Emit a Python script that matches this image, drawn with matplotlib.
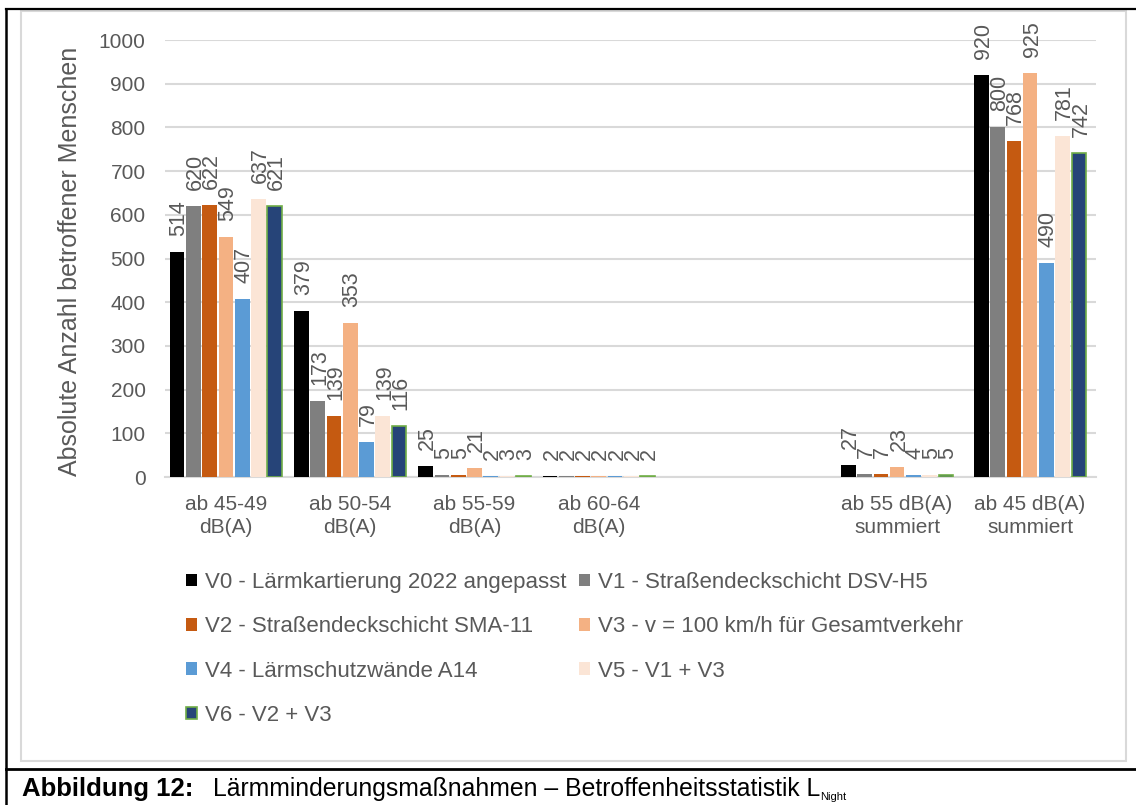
import matplotlib
matplotlib.use("Agg")
import matplotlib.pyplot as plt
from matplotlib.lines import Line2D
from matplotlib.patches import Rectangle
import numpy as np

# ---------------- data ----------------
categories = ["ab 45-49\ndB(A)", "ab 50-54\ndB(A)", "ab 55-59\ndB(A)", "ab 60-64\ndB(A)",
              "ab 55 dB(A)\nsummiert", "ab 45 dB(A)\nsummiert"]
series_names = ["V0 - Lärmkartierung 2022 angepasst",
                "V1 - Straßendeckschicht DSV-H5",
                "V2 - Straßendeckschicht SMA-11",
                "V3 - v = 100 km/h für Gesamtverkehr",
                "V4 - Lärmschutzwände A14",
                "V5 - V1 + V3",
                "V6 - V2 + V3"]
V0 = [514, 379, 25, 2, 27, 920]
V1 = [620, 173, 5, 2, 7, 800]
V2 = [622, 139, 5, 2, 7, 768]
V3 = [549, 353, 21, 2, 23, 925]
V4 = [407, 79, 2, 2, 4, 490]
V5 = [637, 139, 3, 2, 5, 781]
V6 = [621, 116, 3, 2, 5, 742]
series_values = [V0, V1, V2, V3, V4, V5, V6]
y_ticks = [0, 100, 200, 300, 400, 500, 600, 700, 800, 900, 1000]
y_label = "Absolute Anzahl betroffener Menschen"
caption_bold = "Abbildung 12:"
caption_text = "Lärmminderungsmaßnahmen – Betroffenheitsstatistik L"
caption_sub = "Night"

# ---------------- style ----------------
colors = ["#000000", "#7F7F7F", "#C55A11", "#F4B183", "#5B9BD5", "#FBE5D6", "#264478"]
edge_colors = ["white"] * 6 + ["#70AD47"]
TXT = "#595959"
GRID = "#D9D9D9"
FONT = ["Liberation Sans", "DejaVu Sans"]
plt.rcParams["font.family"] = FONT

W, H = 1136, 805
fig = plt.figure(figsize=(W / 100, H / 100), dpi=100)


def fx(x):
    return x / W


def fy(y):
    return 1 - y / H


# axes placement (pixels): left 165, right 1096, top(1000) 40, bottom(0) 477
ax = fig.add_axes([fx(165), fy(477), (1096 - 165) / W, (477 - 40) / H])

# category positions (group centres)
positions = np.array([0, 1, 2, 3, 5.4, 6.47])
pitch = 0.131
bar_w = 0.118
n = len(series_values)
offsets = (np.arange(n) - (n - 1) / 2) * pitch

for i, vals in enumerate(series_values):
    xs = positions + offsets[i]
    lw = 1.2 if i == 6 else 0.0
    ax.bar(xs, vals, width=bar_w, color=colors[i], edgecolor=edge_colors[i],
           linewidth=lw, zorder=3, label=series_names[i])
    for x, v in zip(xs, vals):
        ax.annotate(str(v), (x, v), xytext=(2, 16), textcoords="offset pixels",
                    rotation=90, ha="center", va="bottom", fontsize=15.5, color=TXT,
                    zorder=4, annotation_clip=False)

ax.set_xlim(-0.49, 7.0)
ax.set_ylim(0, 1000)
ax.set_yticks(y_ticks)
ax.set_yticklabels([str(t) for t in y_ticks], fontsize=15, color=TXT)
ax.set_xticks(positions)
ax.set_xticklabels(categories, fontsize=15, color=TXT, linespacing=1.25)
ax.tick_params(axis="both", length=0)
ax.tick_params(axis="y", pad=14)
ax.tick_params(axis="x", pad=13)
ax.grid(axis="y", color=GRID, linewidth=1.5, zorder=0)
for s in ["top", "right", "left"]:
    ax.spines[s].set_visible(False)
ax.spines["bottom"].set_color(GRID)
ax.spines["bottom"].set_linewidth(1.5)
ax.spines["bottom"].set_zorder(2)

fig.text(fx(70), fy(261), y_label, rotation=90, ha="center", va="center",
         fontsize=18, color=TXT)

# legend (row-major order like the reference)
handles, labels = ax.get_legend_handles_labels()
order = [0, 2, 4, 6, 1, 3, 5]
leg = fig.legend([handles[k] for k in order], [labels[k] for k in order],
                 loc="upper left", bbox_to_anchor=(fx(186), fy(572)), ncol=2,
                 frameon=False, fontsize=16, handlelength=0.5, handleheight=0.5,
                 handletextpad=0.35, columnspacing=0.55, labelspacing=1.05,
                 borderaxespad=0, borderpad=0)
for t in leg.get_texts():
    t.set_color(TXT)

# frames
fig.add_artist(Rectangle((fx(21), fy(761)), (1126 - 21) / W, (761 - 11) / H,
                         transform=fig.transFigure, fill=False, edgecolor=GRID,
                         linewidth=1.5))
fig.add_artist(Line2D([fx(6), 1.0], [fy(9), fy(9)], transform=fig.transFigure,
                      color="black", linewidth=1.6))
fig.add_artist(Line2D([fx(6), fx(6)], [fy(9), 0.0], transform=fig.transFigure,
                      color="black", linewidth=1.8))
fig.add_artist(Line2D([fx(6), 1.0], [fy(769), fy(769)], transform=fig.transFigure,
                      color="black", linewidth=2.0))

# caption
fig.text(fx(22), fy(796), caption_bold, fontsize=18.5, fontweight="bold",
         color="black", ha="left", va="baseline")
t_main = fig.text(fx(213), fy(796), caption_text, fontsize=17.8,
                  color="black", ha="left", va="baseline")
fig.canvas.draw()
bb = t_main.get_window_extent(renderer=fig.canvas.get_renderer())
fig.text(bb.x1 / W, fy(800), caption_sub, fontsize=8, color="black",
         ha="left", va="baseline")

fig.savefig("out.png", dpi=100)
